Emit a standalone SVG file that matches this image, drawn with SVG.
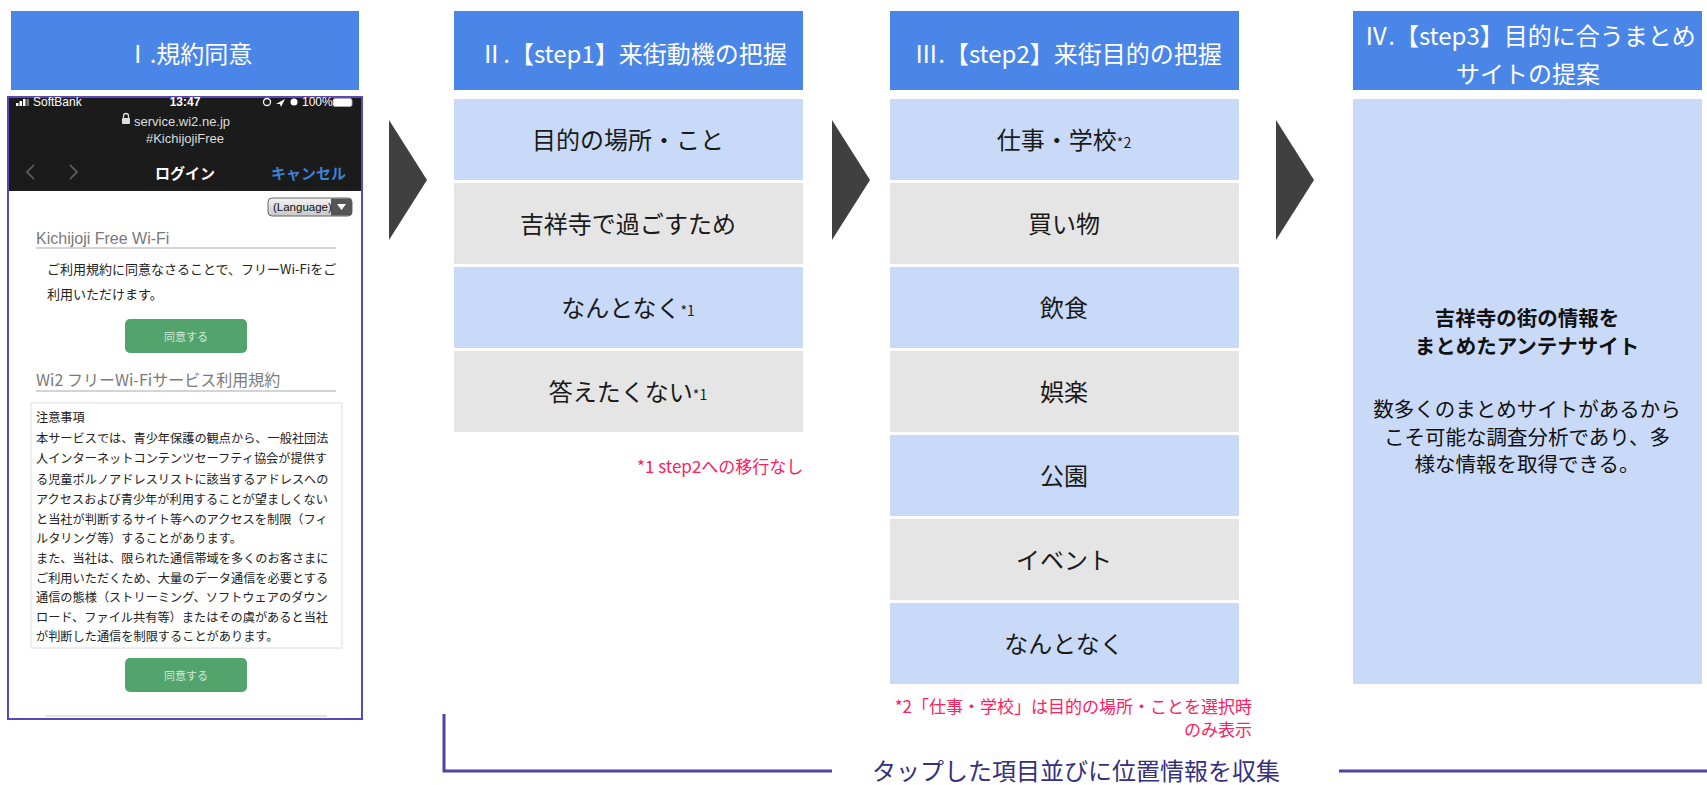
<svg xmlns="http://www.w3.org/2000/svg" width="1707" height="785" viewBox="0 0 1707 785">
<defs>
<style>
text{font-family:"Noto Sans CJK JP","Noto Sans",sans-serif;dominant-baseline:central}
.hdr rect{fill:#4A86E8}
.hdr text{fill:#fff;font-size:24px;text-anchor:middle}
.blue{fill:#C9DAF8}
.gray{fill:#E5E5E5}
.item text{fill:#1a1a1a;font-size:24px;text-anchor:middle}
.sup{font-size:14px}
.arrow{fill:#404040}
.note{fill:#FF2060;font-size:17px}
.lat{font-family:"Liberation Sans",Arial,sans-serif}
.term{font-size:12.2px;fill:#222}
.btn rect{fill:#52A46C}
.btn text{fill:#CFEAD6;font-size:11px;text-anchor:middle}
.conn{fill:none;stroke:#4B43A6;stroke-width:3}
</style>
<linearGradient id="lg" x1="0" y1="0" x2="0" y2="1">
<stop offset="0" stop-color="#F4F4F4"/><stop offset="1" stop-color="#C8C8C8"/>
</linearGradient>
</defs>
<rect width="1707" height="785" fill="#fff"/>

<!-- Headers -->
<g id="header1" class="hdr"><rect x="11" y="11" width="348" height="79"/><text x="189" y="52">Ⅰ.規約同意</text></g>
<g id="header2" class="hdr"><rect x="454" y="11" width="349" height="79"/><text x="633" y="52">Ⅱ.【step1】来街動機の把握</text></g>
<g id="header3" class="hdr"><rect x="890" y="11" width="349" height="79"/><text x="1068" y="52">Ⅲ.【step2】来街目的の把握</text></g>
<g id="header4" class="hdr"><rect x="1353" y="11" width="349" height="79"/><text x="1530" y="34">Ⅳ.【step3】目的に合うまとめ</text><text x="1528" y="72">サイトの提案</text></g>

<!-- Phone screenshot -->
<g id="phone">
<rect x="8" y="97" width="354" height="622" fill="#fff" stroke="#5848B8" stroke-width="2"/>
<rect x="9" y="98" width="352" height="93" fill="#1B1B1B"/>
<g fill="#fff">
<rect x="16" y="103" width="2.5" height="3"/><rect x="19.5" y="101" width="2.5" height="5"/><rect x="23" y="99" width="2.5" height="7"/><rect x="26.5" y="99" width="2.5" height="7" fill="#777"/>
</g>
<text x="33" y="102" class="lat" font-size="12" fill="#fff">SoftBank</text>
<text x="185" y="102" class="lat" font-size="12" font-weight="bold" fill="#fff" text-anchor="middle">13:47</text>
<circle cx="267" cy="102" r="3.5" fill="none" stroke="#fff" stroke-width="1.3"/>
<polygon points="276,104 285,99 281,107 280,104" fill="#fff"/>
<circle cx="294" cy="102" r="3.5" fill="#fff"/>
<text x="302" y="102" class="lat" font-size="12" fill="#fff">100%</text>
<rect x="333" y="98.5" width="19" height="8" rx="2" fill="#fff" stroke="#aaa" stroke-width="1"/>
<rect x="122" y="118" width="8" height="6" rx="1" fill="#ddd"/><path d="M123.5,118 v-2 a2.5,2.5 0 0 1 5,0 v2" fill="none" stroke="#ddd" stroke-width="1.3"/>
<text x="134" y="121" class="lat" font-size="13" fill="#ddd">service.wi2.ne.jp</text>
<text x="185" y="138" class="lat" font-size="13" fill="#ddd" text-anchor="middle">#KichijojiFree</text>
<polyline points="34,165 27,172 34,179" fill="none" stroke="#666" stroke-width="1.5"/>
<polyline points="70,165 77,172 70,179" fill="none" stroke="#666" stroke-width="1.5"/>
<text x="185" y="172" font-size="15" font-weight="bold" fill="#fff" text-anchor="middle">ログイン</text>
<text x="346" y="172" font-size="15" font-weight="bold" fill="#3E82D8" text-anchor="end">キャンセル</text>
<rect x="268" y="198" width="84" height="18" rx="4" fill="url(#lg)" stroke="#666" stroke-width="1"/>
<path d="M331,198.5 h17 a4,4 0 0 1 4,4 v9 a4,4 0 0 1 -4,4 h-17 z" fill="#555"/>
<polygon points="337,204 346,204 341.5,210" fill="#fff"/>
<text x="273" y="207" class="lat" font-size="11.5" fill="#111">(Language)</text>
<text x="36" y="238" class="lat" font-size="16" fill="#7a7a7a">Kichijoji Free Wi-Fi</text>
<line x1="36" y1="248" x2="336" y2="248" stroke="#D4D4D4" stroke-width="2"/>
<text x="47" y="268" font-size="13" fill="#222">ご利用規約に同意なさることで、フリーWi-Fiをご</text>
<text x="47" y="293" font-size="13" fill="#222">利用いただけます。</text>
<g class="btn"><rect x="125" y="319" width="122" height="34" rx="5"/><text x="186" y="336">同意する</text></g>
<text x="36" y="379" font-size="16" fill="#7a7a7a">Wi2 フリーWi-Fiサービス利用規約</text>
<line x1="36" y1="391" x2="336" y2="391" stroke="#D4D4D4" stroke-width="2"/>
<rect x="31" y="403" width="311" height="245" fill="#fff" stroke="#DDD" stroke-width="1"/>
<g class="term">
<text x="36" y="417">注意事項</text>
<text x="36" y="438">本サービスでは、青少年保護の観点から、一般社団法</text>
<text x="36" y="458">人インターネットコンテンツセーフティ協会が提供す</text>
<text x="36" y="479">る児童ポルノアドレスリストに該当するアドレスへの</text>
<text x="36" y="499">アクセスおよび青少年が利用することが望ましくない</text>
<text x="36" y="519">と当社が判断するサイト等へのアクセスを制限（フィ</text>
<text x="36" y="538">ルタリング等）することがあります。</text>
<text x="36" y="558">また、当社は、限られた通信帯域を多くのお客さまに</text>
<text x="36" y="578">ご利用いただくため、大量のデータ通信を必要とする</text>
<text x="36" y="597">通信の態様（ストリーミング、ソフトウェアのダウン</text>
<text x="36" y="617">ロード、ファイル共有等）またはその虞があると当社</text>
<text x="36" y="636">が判断した通信を制限することがあります。</text>
</g>
<g class="btn"><rect x="125" y="658" width="122" height="34" rx="5"/><text x="186" y="675">同意する</text></g>
<line x1="45" y1="716" x2="327" y2="716" stroke="#DDD" stroke-width="1.5"/>
</g>

<!-- Step1 items -->
<g id="s1-item1" class="item"><rect class="blue" x="454" y="99" width="349" height="81"/><text x="628" y="138">目的の場所・こと</text></g>
<g id="s1-item2" class="item"><rect class="gray" x="454" y="183" width="349" height="81"/><text x="628" y="222">吉祥寺で過ごすため</text></g>
<g id="s1-item3" class="item"><rect class="blue" x="454" y="267" width="349" height="81"/><text x="628" y="306">なんとなく<tspan class="sup" dy="4">*1</tspan></text></g>
<g id="s1-item4" class="item"><rect class="gray" x="454" y="351" width="349" height="81"/><text x="628" y="390">答えたくない<tspan class="sup" dy="4">*1</tspan></text></g>
<g id="note1"><text class="note" x="637" y="465">*1 step2への移行なし</text></g>

<!-- Step2 items -->
<g id="s2-item1" class="item"><rect class="blue" x="890" y="99" width="349" height="81"/><text x="1064" y="138">仕事・学校<tspan class="sup" dy="4">*2</tspan></text></g>
<g id="s2-item2" class="item"><rect class="gray" x="890" y="183" width="349" height="81"/><text x="1064" y="222">買い物</text></g>
<g id="s2-item3" class="item"><rect class="blue" x="890" y="267" width="349" height="81"/><text x="1064" y="306">飲食</text></g>
<g id="s2-item4" class="item"><rect class="gray" x="890" y="351" width="349" height="81"/><text x="1064" y="390">娯楽</text></g>
<g id="s2-item5" class="item"><rect class="blue" x="890" y="435" width="349" height="81"/><text x="1064" y="474">公園</text></g>
<g id="s2-item6" class="item"><rect class="gray" x="890" y="519" width="349" height="81"/><text x="1064" y="558">イベント</text></g>
<g id="s2-item7" class="item"><rect class="blue" x="890" y="603" width="349" height="81"/><text x="1064" y="642">なんとなく</text></g>
<g id="note2">
<text class="note" x="1252" y="705" text-anchor="end" font-size="16">*2「仕事・学校」は目的の場所・ことを選択時</text>
<text class="note" x="1252" y="728" text-anchor="end" font-size="16">のみ表示</text>
</g>

<!-- Step3 box -->
<g id="s3-box">
<rect class="blue" x="1353" y="99" width="349" height="585"/>
<g fill="#111" text-anchor="middle">
<text x="1527" y="317" font-size="20.5" font-weight="bold">吉祥寺の街の情報を</text>
<text x="1527" y="345" font-size="20.5" font-weight="bold">まとめたアンテナサイト</text>
<text x="1527" y="408" font-size="20.5">数多くのまとめサイトがあるから</text>
<text x="1527" y="436" font-size="20.5">こそ可能な調査分析であり、多</text>
<text x="1527" y="463" font-size="20.5">様な情報を取得できる。</text>
</g>
</g>

<!-- Connectors -->
<g id="connectors">
<polygon class="arrow" points="389,120 427,180 389,240"/>
<polygon class="arrow" points="832,120 870,180 832,240"/>
<polygon class="arrow" points="1276,120 1314,180 1276,240"/>
<path class="conn" d="M444,714 V771 H832"/>
<path class="conn" d="M1339,771 H1707"/>
</g>
<g id="bracket-label"><text x="1076" y="769" font-size="24" fill="#35307F" text-anchor="middle">タップした項目並びに位置情報を収集</text></g>
</svg>
